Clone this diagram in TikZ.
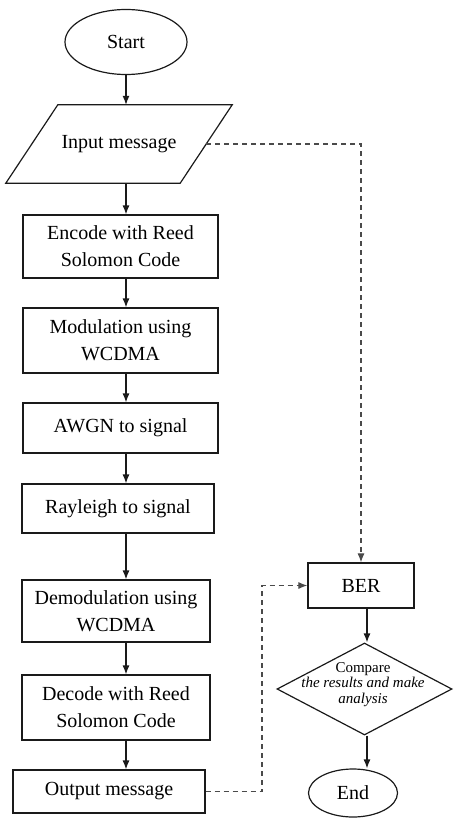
\documentclass[tikz,border=0pt]{standalone}
\usepackage{fontspec}
\setmainfont{Liberation Serif}
\usetikzlibrary{calc,positioning,arrows.meta,shapes.geometric}
\definecolor{InkBlack}{HTML}{1A1A1A}
\definecolor{DashGray}{HTML}{4A4A4A}

\begin{document}
\begin{tikzpicture}[x=1pt, y=-1pt,
    term/.style={ellipse, draw=InkBlack, line width=1.2pt, align=center,
                 font=\fontsize{20}{27}\selectfont, inner sep=2pt},
    io/.style={rectangle, align=center, minimum width=174pt, minimum height=78pt,
               font=\fontsize{20}{27}\selectfont},
    proc/.style={rectangle, draw=InkBlack, line width=1.2pt, align=center,
                 font=\fontsize{20}{27}\selectfont, inner sep=2pt},
    dec/.style={diamond, draw=InkBlack, line width=1.2pt, inner sep=0pt},
    dectext/.style={align=center, font=\fontsize{15}{15.5}\selectfont, inner sep=0pt},
    arr/.style={-{Latex[length=9pt,width=7pt]}, line width=1.2pt, color=InkBlack},
    darr/.style={-{Latex[length=9pt,width=7pt]}, dash pattern=on 5pt off 4pt,
                 line width=1.1pt, color=DashGray},
  ]
    \useasboundingbox (0,0) rectangle (453,829);

    % Main column
    \node[term, minimum width=122pt, minimum height=65pt] (start) at (126,42) {Start};
    \node[io] (inp) at (119,144) {Input message};
    \draw[line width=1.2pt, color=InkBlack]
      ([xshift=26pt]inp.north west) -- ([xshift=26pt]inp.north east)
      -- ([xshift=-26pt]inp.south east) -- ([xshift=-26pt]inp.south west) -- cycle;
    \node[proc, minimum width=195pt, minimum height=63pt] (enc) at (120.5,246.5) {Encode with Reed\\Solomon Code};
    \node[proc, minimum width=195pt, minimum height=65pt] (mod) at (120.5,340.5) {Modulation using\\WCDMA};
    \node[proc, minimum width=195pt, minimum height=50pt] (awgn) at (120.5,428) {AWGN to signal};
    \node[proc, minimum width=192pt, minimum height=49pt] (ray) at (118,508.5) {Rayleigh to signal};
    \node[proc, minimum width=188pt, minimum height=62pt] (demod) at (116,611) {Demodulation using\\WCDMA};
    \node[proc, minimum width=188pt, minimum height=65pt] (decd) at (116,707.5) {Decode with Reed\\Solomon Code};
    \node[proc, minimum width=192pt, minimum height=43pt] (out) at (109,791.5) {Output message};

    % Right column
    \node[proc, minimum width=106pt, minimum height=45pt] (ber) at (361,585.5) {BER};
    \node[dec, minimum width=175pt, minimum height=92pt] (cmp) at (364.5,689) {};
    \node[dectext] (cmptxt) at (363,684.5) {Compare\\\textit{the results and make}\\\textit{analysis}};
    \node[term, minimum width=89pt, minimum height=48pt] (fin) at (353,793) {End};

    \coordinate (spine) at (126,0);
    \coordinate (rspine) at (367,0);
    \coordinate (bend) at (262,0);

    \draw[arr] (spine |- start.south) -- (spine |- inp.north);
    \draw[arr] (spine |- inp.south) -- (spine |- enc.north);
    \draw[arr] (spine |- enc.south) -- (spine |- mod.north);
    \draw[arr] (spine |- mod.south) -- (spine |- awgn.north);
    \draw[arr] (spine |- awgn.south) -- (spine |- ray.north);
    \draw[arr] (spine |- ray.south) -- (spine |- demod.north);
    \draw[arr] (spine |- demod.south) -- (spine |- decd.north);
    \draw[arr] (spine |- decd.south) -- (spine |- out.north);

    \draw[arr] (rspine |- ber.south) -- (rspine |- cmp.north);
    \draw[arr] (rspine |- cmp.south) -- (rspine |- fin.north);

    % Dashed links to BER
    \draw[darr] (inp.east) -| (ber.north);
    \draw[darr] (out.east) -- (bend |- out.east) |- (ber.west);
\end{tikzpicture}
\end{document}
